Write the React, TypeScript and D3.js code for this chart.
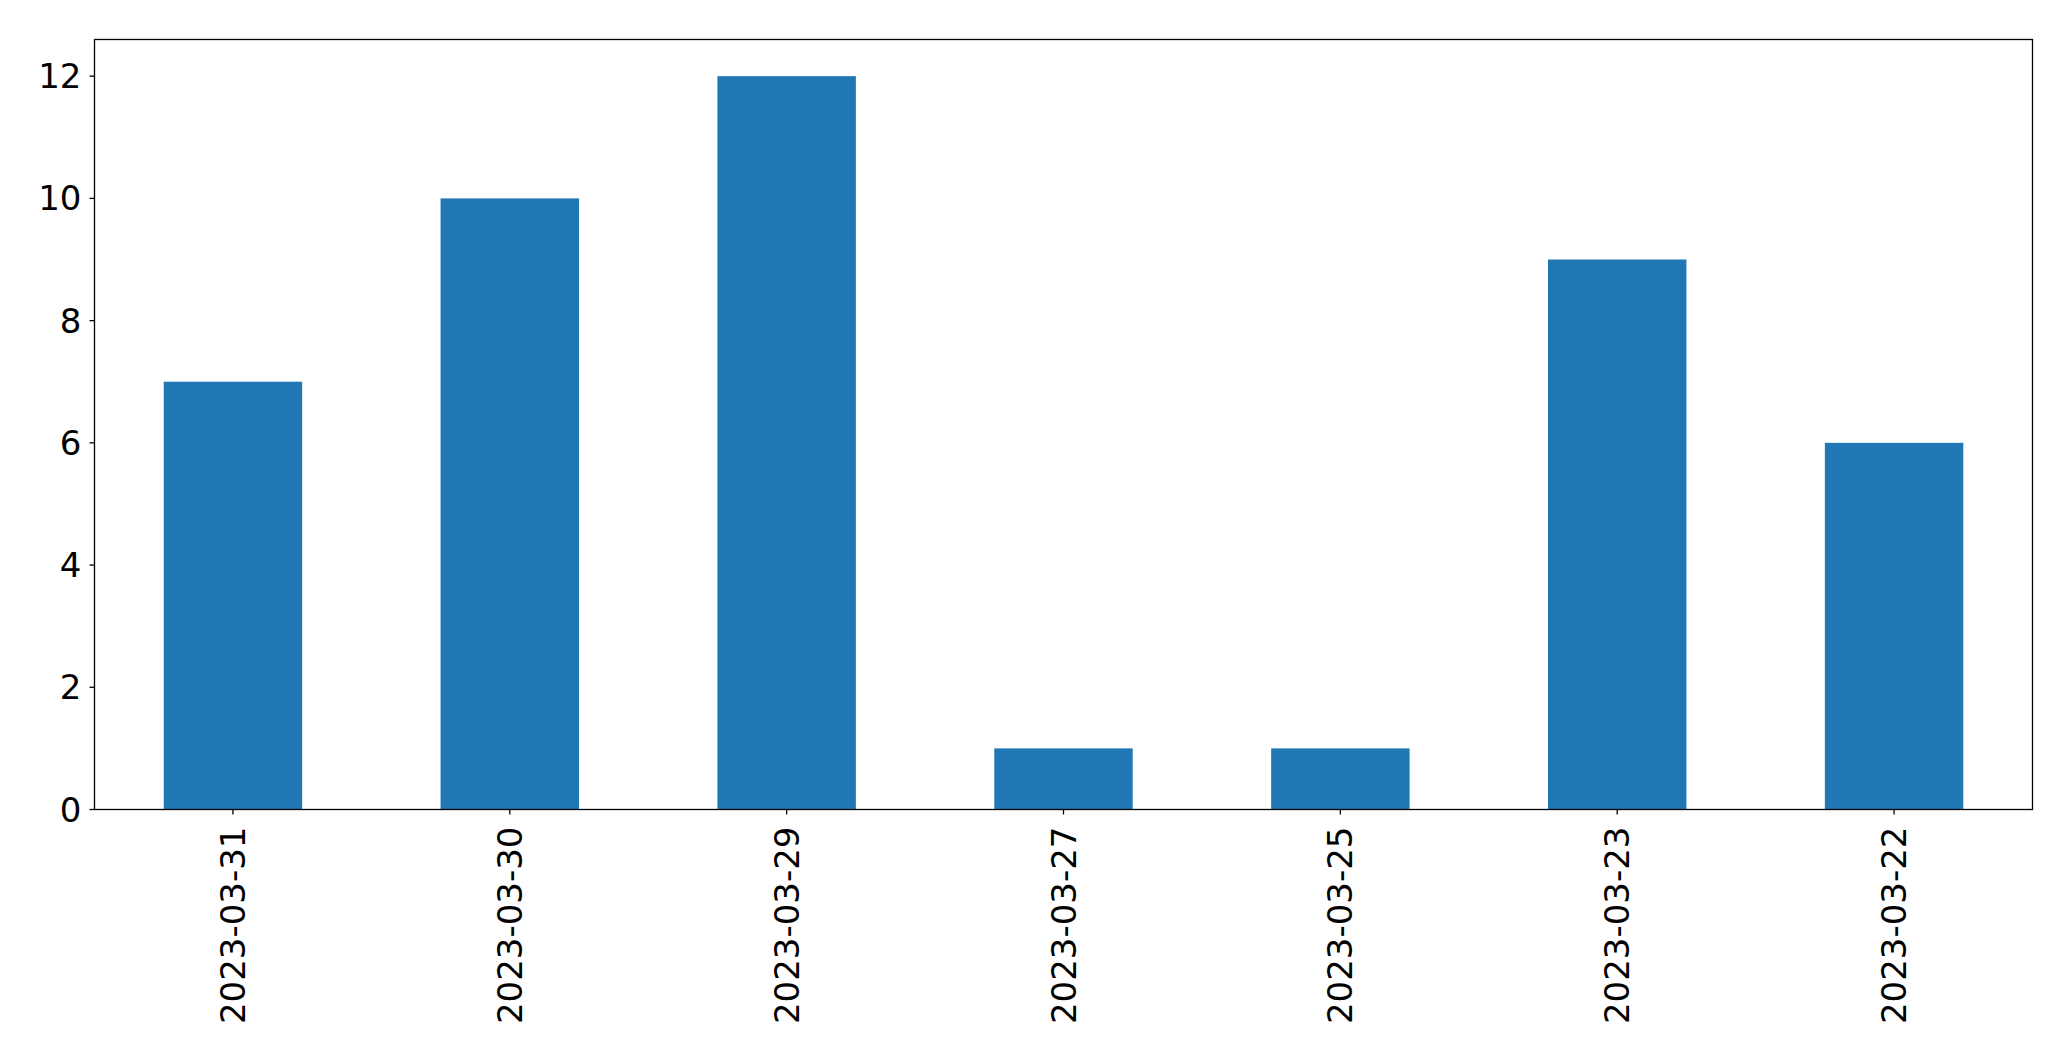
import React from "react";
import * as d3 from "d3";

const categories = ["2023-03-31", "2023-03-30", "2023-03-29", "2023-03-27", "2023-03-25", "2023-03-23", "2023-03-22"];
const values = [7, 10, 12, 1, 1, 9, 6];
const yTicks = [0, 2, 4, 6, 8, 10, 12];

const W = 2071;
const H = 1061;
const M = { left: 94.5, right: 2032.5, top: 39.5, bottom: 809.5 };
const FONT = "DejaVu Sans, sans-serif";

export default function App() {
  const x = d3.scaleBand<string>().domain(categories).range([M.left, M.right]).paddingInner(0.5).paddingOuter(0.25);
  const y = d3.scaleLinear().domain([0, 12 * 1.05]).range([M.bottom, M.top]);
  return (
    <svg width={W} height={H} style={{ position: "absolute", left: 0, top: 0, background: "#fff" }}>
      <rect x={0} y={0} width={W} height={H} fill="#fff" />
      {categories.map((c, i) => (
        <rect key={c} x={x(c)!} y={y(values[i])} width={x.bandwidth()} height={y(0) - y(values[i])} fill="#1f77b4" />
      ))}
      <rect x={M.left} y={M.top} width={M.right - M.left} height={M.bottom - M.top} fill="none" stroke="#000" strokeWidth={1.3} />
      {yTicks.map((t) => (
        <g key={t}>
          <line x1={M.left - 5} x2={M.left} y1={y(t)} y2={y(t)} stroke="#000" strokeWidth={1.3} />
          <text x={M.left - 13} y={y(t)} textAnchor="end" dominantBaseline="central" fontFamily={FONT} fontSize={34} fill="#000">
            {t}
          </text>
        </g>
      ))}
      {categories.map((c) => {
        const cx = x(c)! + x.bandwidth() / 2;
        return (
          <g key={c}>
            <line x1={cx} x2={cx} y1={M.bottom} y2={M.bottom + 5} stroke="#000" strokeWidth={1.3} />
            <text
              transform={`translate(${cx},${M.bottom + 17}) rotate(-90)`}
              textAnchor="end"
              dominantBaseline="central"
              fontFamily={FONT}
              fontSize={34}
              fill="#000"
            >
              {c}
            </text>
          </g>
        );
      })}
    </svg>
  );
}
